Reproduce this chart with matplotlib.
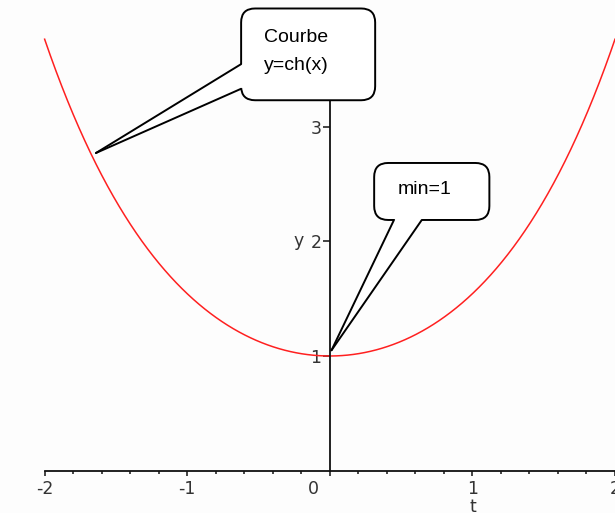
import matplotlib

matplotlib.use("Agg")
import matplotlib.pyplot as plt
import numpy as np
from matplotlib.patches import FancyBboxPatch, Polygon
from matplotlib.transforms import IdentityTransform, ScaledTranslation
from matplotlib.ticker import FixedLocator

# curve samples: y = cosh(t) on [-2, 2]
t_min, t_max = -2.0, 2.0
x_ticks = [-2, -1, 0, 1, 2]
y_ticks = [1, 2, 3]
minor_step = 0.2

# callouts: text, box (x0, y0, x1, y1), tip, attach points (all in data units)
curve_note = ["Courbe", "y=ch(x)"]
curve_box = (-0.622, 3.23, 0.318, 4.03)
curve_tip = (-1.64, 2.77)
curve_attach = [(-0.622, 3.545), (-0.622, 3.33)]

min_note = ["min=1"]
min_box = (0.311, 2.186, 1.119, 2.683)
min_tip = (0.012, 1.05)
min_attach = [(0.45, 2.186), (0.645, 2.186)]

fig = plt.figure(figsize=(6.15, 5.13), dpi=100)
ax = fig.add_axes([0, 0, 1, 1])
ax.set_xlim(-2.313, 1.969)
ax.set_ylim(-0.369, 4.104)
fig.patch.set_facecolor("#fdfdfd")
ax.set_facecolor("#fdfdfd")

t = np.linspace(t_min, t_max, 400)
ax.plot(t, np.cosh(t), color="#ff2020", lw=1.1, zorder=2)

# Maple-style axes crossing at the origin
for side in ("top", "right"):
    ax.spines[side].set_visible(False)
ax.spines["left"].set_position(("data", 0))
ax.spines["bottom"].set_position(("data", 0))
ax.spines["left"].set_bounds(0, np.cosh(t_max))
ax.spines["bottom"].set_bounds(t_min, t_max)
for side in ("left", "bottom"):
    ax.spines[side].set_linewidth(1.3)
    ax.spines[side].set_color("#111111")

ax.set_xticks(x_ticks)
ax.set_xticklabels([str(v) for v in x_ticks])
n_minor = int(round((t_max - t_min) / minor_step))
ax.xaxis.set_minor_locator(FixedLocator([t_min + i * minor_step for i in range(n_minor + 1)]))
ax.set_yticks(y_ticks)
ax.set_yticklabels([str(v) for v in y_ticks])
ax.tick_params(axis="x", which="major", direction="out", length=3.5, width=1.1,
               color="#111111", labelsize=12.5, labelcolor="#333333", pad=3)
ax.tick_params(axis="x", which="minor", direction="out", length=1.8, width=1.1, color="#111111")
ax.tick_params(axis="y", which="major", direction="out", length=5, width=1.1,
               color="#111111", labelsize=12.5, labelcolor="#333333", pad=1)

# shift the "0" label off the vertical axis
for lab in ax.get_xticklabels():
    if lab.get_text() == "0":
        lab.set_transform(lab.get_transform() + ScaledTranslation(-0.16, 0, fig.dpi_scale_trans))

ax.text(-0.18, 2.0, "y", fontsize=12.5, color="#333333", ha="right", va="center")
ax.text(1.0, -0.235, "t", fontsize=12.5, color="#333333", ha="center", va="top")

fig.canvas.draw()


def callout(lines, box, tip, attach, text_xy, ha):
    T = ax.transData
    x0, y0 = T.transform((box[0], box[1]))
    x1, y1 = T.transform((box[2], box[3]))
    r = 14
    patch = FancyBboxPatch((x0 + r, y0 + r), (x1 - x0) - 2 * r, (y1 - y0) - 2 * r,
                           boxstyle=f"round,pad={r},rounding_size={r}",
                           transform=IdentityTransform(), fc="white", ec="black",
                           lw=1.4, zorder=5)
    ax.add_patch(patch)
    tx, ty = T.transform(tip)
    cx, cy = (x0 + x1) / 2, (y0 + y1) / 2
    pts = [T.transform(p) for p in attach]
    inner = []
    for px, py in pts:
        dx, dy = cx - px, cy - py
        n = np.hypot(dx, dy)
        inner.append((px + 4 * dx / n, py + 4 * dy / n))
    poly = Polygon([(tx, ty), tuple(pts[0]), inner[0], inner[1], tuple(pts[1])],
                   closed=True, transform=IdentityTransform(), fc="white", ec="none", zorder=6)
    ax.add_patch(poly)
    for px, py in pts:
        ax.plot([tx, px], [ty, py], color="black", lw=1.4, transform=IdentityTransform(),
                zorder=7, solid_capstyle="round")
    for (lx, ly), s in zip(text_xy, lines):
        ax.text(lx, ly, s, fontsize=14, family="Liberation Sans", color="black",
                ha=ha, va="center", zorder=8)


callout(curve_note, curve_box, curve_tip, curve_attach, [(-0.46, 3.775), (-0.46, 3.535)], "left")
callout(min_note, min_box, min_tip, min_attach, [(0.667, 2.45)], "center")

fig.savefig("out.png", dpi=100, facecolor=fig.get_facecolor())
